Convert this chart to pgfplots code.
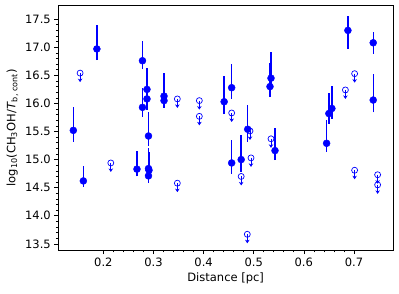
\documentclass[border=0pt]{standalone}
\usepackage{fontspec}
\setmainfont{DejaVu Sans}
\usepackage{pgfplots}
\usepackage{pgfplotstable}
\pgfplotsset{compat=1.18}
\usetikzlibrary{arrows.meta}

\pgfplotstableread{
x y em ep
0.140 15.52 0.20 0.41
0.160 14.62 0.10 0.27
0.187 16.97 0.20 0.43
0.267 14.83 0.13 0.33
0.278 16.76 0.15 0.35
0.278 15.93 0.17 0.34
0.287 16.25 0.18 0.38
0.287 16.08 0.19 0.30
0.290 15.42 0.18 0.42
0.290 14.84 0.15 0.37
0.291 14.81 0.14 0.33
0.290 14.71 0.12 0.30
0.321 16.13 0.17 0.41
0.321 16.05 0.13 0.35
0.441 16.03 0.22 0.46
0.456 16.28 0.20 0.42
0.456 14.94 0.20 0.41
0.475 15.00 0.22 0.43
0.488 15.54 0.22 0.44
0.5325 16.30 0.18 0.42
0.5345 16.45 0.20 0.47
0.5425 15.16 0.17 0.40
0.6455 15.29 0.15 0.41
0.650 15.82 0.18 0.37
0.656 15.91 0.18 0.40
0.688 17.30 0.33 0.26
0.7385 17.08 0.20 0.20
0.7385 16.06 0.22 0.47
}\filled

\pgfplotstableread{
x y
0.1535 16.54
0.2148 14.94
0.3476 16.08
0.3476 14.58
0.3915 16.05
0.3915 15.77
0.456 15.83
0.475 14.70
0.4926 15.51
0.4946 15.03
0.4872 13.67
0.5345 15.37
0.683 16.24
0.7014 16.53
0.7014 14.81
0.7473 14.73
0.7473 14.55
}\upper

\begin{document}
\begin{tikzpicture}
\useasboundingbox (-58.3pt,-43pt) rectangle (340.7pt,250pt);
\begin{axis}[
  at={(0,0)}, anchor=south west,
  scale only axis, width=334.7pt, height=244.3pt,
  xmin=0.110, xmax=0.778, ymin=13.39, ymax=17.74,
  axis line style={line width=0.8pt},
  tick align=outside, xtick pos=bottom, ytick pos=left,
  xtick={0.2,0.3,0.4,0.5,0.6,0.7},
  ytick={13.5,14.0,14.5,15.0,15.5,16.0,16.5,17.0,17.5},
  minor x tick num=4, minor y tick num=4,
  major tick length=4pt, minor tick length=2.3pt,
  every tick/.style={black, line width=0.6pt},
  xticklabel style={font=\fontsize{11.5}{13}\selectfont, /pgf/number format/.cd, fixed, fixed zerofill, precision=1, assume math mode=true},
  yticklabel style={font=\fontsize{11.5}{13}\selectfont, /pgf/number format/.cd, fixed, fixed zerofill, precision=1, assume math mode=true},
  label style={font=\fontsize{11.5}{13}\selectfont},
  xlabel={Distance [pc]},
  ylabel={log\textsubscript{10}(CH\textsubscript{3}OH/\textit{T}\textsubscript{b, cont})},
  clip=false,
]
% error bars (from y-em to y+ep)
\addplot[blue, line width=1.4pt, mark=none,
  quiver={u=0, v=\thisrow{em}+\thisrow{ep}}]
  table[x=x, y expr=\thisrow{y}-\thisrow{em}] {\filled};
% detections
\addplot[only marks, mark=*, mark size=3.5pt, color=blue, mark options={fill=blue, draw=blue}]
  table[x=x, y=y] {\filled};
% upper limits
\addplot[blue, line width=0.9pt, mark=none, quiver={u=0, v=-0.16},
  -{Stealth[length=3.5pt, width=4.5pt]}] table[x=x, y=y] {\upper};
\addplot[only marks, mark=o, mark size=3pt, color=blue, mark options={line width=0.7pt, fill=white}] table[x=x, y=y] {\upper};
\end{axis}
\end{tikzpicture}
\end{document}
